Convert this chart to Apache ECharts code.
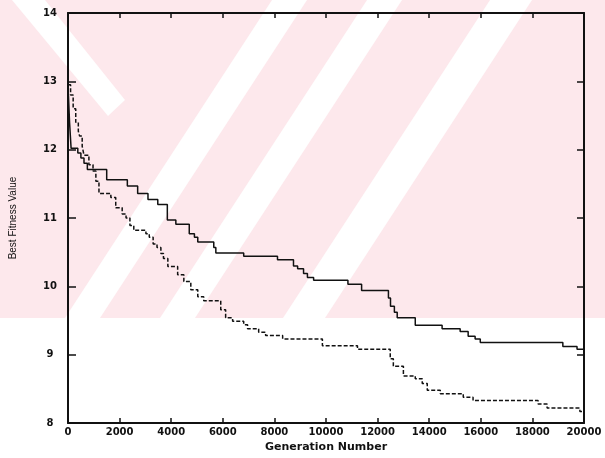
<!DOCTYPE html>
<html>
<head>
<meta charset="utf-8">
<script src="https://cdn.jsdelivr.net/npm/echarts@6/dist/echarts.min.js"></script>
<style>html,body{margin:0;padding:0;background:#fff;}#c{width:605px;height:458px;}</style>
</head>
<body>
<div id="c"></div>
<script>
// Solid curve (generation where level starts, best fitness)
const solidX = [0,60,120,380,500,620,750,1500,2300,2700,3100,3480,3850,4180,4700,4900,5030,5650,5730,6810,8120,8740,8900,9130,9280,9520,10850,11380,12420,12500,12650,12760,13460,14500,15200,15510,15780,15980,19180,19730,20000];
const solidY = [12.95,12.4,12.02,11.95,11.88,11.8,11.71,11.56,11.47,11.36,11.27,11.2,10.97,10.91,10.77,10.72,10.65,10.57,10.49,10.44,10.39,10.3,10.26,10.19,10.13,10.09,10.03,9.94,9.83,9.71,9.62,9.54,9.43,9.38,9.34,9.27,9.23,9.18,9.12,9.08,9.08];
// Dashed curve
const dashedX = [0,100,200,300,400,450,550,620,810,970,1080,1200,1660,1850,2100,2250,2400,2550,3020,3150,3300,3450,3600,3700,3870,4250,4490,4760,5030,5260,5920,6110,6380,6810,6960,7390,7660,8320,9860,11220,12490,12610,13000,13460,13730,13925,14430,15320,15700,18220,18570,19840,20000];
const dashedY = [12.95,12.8,12.6,12.4,12.27,12.2,12.05,11.92,11.78,11.69,11.54,11.36,11.3,11.15,11.06,11.0,10.89,10.82,10.77,10.72,10.62,10.57,10.48,10.41,10.29,10.17,10.07,9.95,9.85,9.79,9.66,9.54,9.49,9.44,9.38,9.33,9.28,9.23,9.13,9.08,8.94,8.83,8.69,8.65,8.58,8.48,8.43,8.38,8.33,8.28,8.22,8.17,8.17];
const xTitle = 'Generation Number';
const yTitle = 'Best Fitness Value';

const solidData = solidX.map((x,i)=>[x, solidY[i]]);
const dashedData = dashedX.map((x,i)=>[x, dashedY[i]]);

const PINK = '#fde8ec';
const bgGraphics = [
  {type:'rect', shape:{x:0,y:0,width:605,height:318}, style:{fill:PINK}, z:-10, silent:true},
  {type:'polygon', shape:{points:[[12,0],[45,0],[125,100],[108,116]]}, style:{fill:'#fff'}, z:-9, silent:true},
  {type:'polygon', shape:{points:[[65,318],[100,318],[307,0],[272,0]]}, style:{fill:'#fff'}, z:-9, silent:true},
  {type:'polygon', shape:{points:[[160,318],[195,318],[402,0],[367,0]]}, style:{fill:'#fff'}, z:-9, silent:true},
  {type:'polygon', shape:{points:[[283,318],[325,318],[532,0],[490,0]]}, style:{fill:'#fff'}, z:-9, silent:true}
];

const chart = echarts.init(document.getElementById('c'), null, {renderer:'canvas'});
const labelFont = {fontFamily:'DejaVu Sans', fontWeight:'bold', fontSize:10, color:'#111'};
chart.setOption({
  animation:false,
  backgroundColor:'#fff',
  graphic: bgGraphics,
  grid:{left:67, right:21, top:13, bottom:30, containLabel:false},
  xAxis:[
    {type:'value', position:'bottom', min:0, max:20000, interval:2000,
     name:xTitle, nameLocation:'middle', nameGap:11,
     nameTextStyle:{fontFamily:'DejaVu Sans', fontWeight:'bold', fontSize:11, color:'#111'},
     axisLine:{show:true, lineStyle:{color:'#111', width:2}},
     axisTick:{show:true, inside:true, length:5, lineStyle:{color:'#111', width:1.5}},
     axisLabel:Object.assign({margin:4, formatter:(v)=>String(v)}, labelFont),
     splitLine:{show:false}},
    {type:'value', position:'top', min:0, max:20000, interval:2000,
     axisLine:{show:true, onZero:false, lineStyle:{color:'#111', width:2}},
     axisTick:{show:true, inside:true, length:5, lineStyle:{color:'#111', width:1.5}},
     axisLabel:{show:false}, splitLine:{show:false}}
  ],
  yAxis:[
    {type:'value', position:'left', min:8, max:14, interval:1,
     name:yTitle, nameLocation:'middle', nameGap:50, nameRotate:90,
     nameTextStyle:{fontFamily:'Liberation Sans Narrow, Liberation Sans', fontSize:10, color:'#111'},
     axisLine:{show:true, onZero:false, lineStyle:{color:'#111', width:2}},
     axisTick:{show:true, inside:true, length:8, lineStyle:{color:'#111', width:1.5}},
     axisLabel:Object.assign({margin:18, align:'center', formatter:(v)=>String(v)}, labelFont),
     splitLine:{show:false}},
    {type:'value', position:'right', min:8, max:14, interval:1,
     axisLine:{show:true, onZero:false, lineStyle:{color:'#111', width:2}},
     axisTick:{show:true, inside:true, length:7, lineStyle:{color:'#111', width:1.5}},
     axisLabel:{show:false}, splitLine:{show:false}}
  ],
  series:[
    {type:'line', name:'solid', data:solidData, step:'end', showSymbol:false,
     lineStyle:{color:'#111', width:1.5, type:'solid'}},
    {type:'line', name:'dashed', data:dashedData, step:'end', showSymbol:false,
     lineStyle:{color:'#111', width:1.5, type:[4,2]}}
  ]
});
</script>
</body>
</html>
